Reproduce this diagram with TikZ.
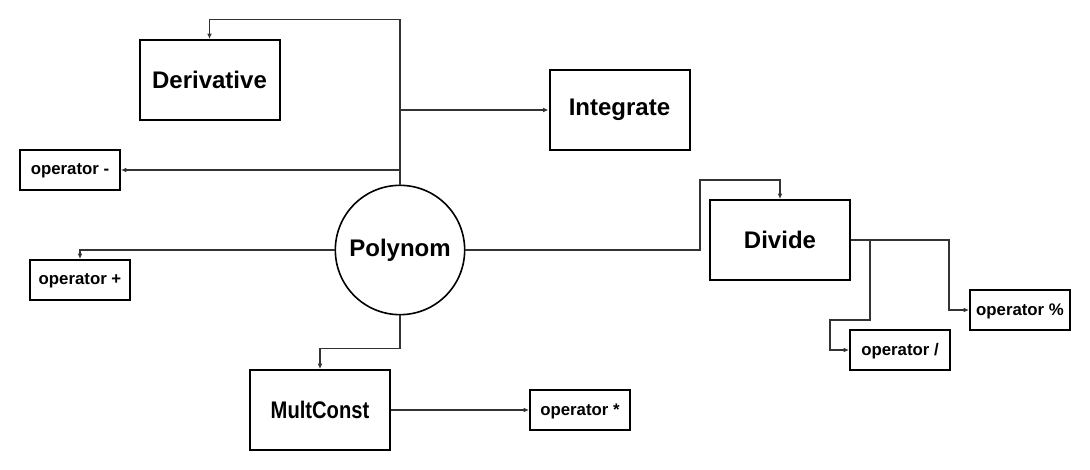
\documentclass[tikz,border=0pt]{standalone}
\usepackage{fontspec}
\setmainfont{Liberation Sans}
\usetikzlibrary{arrows.meta}

\begin{document}
\begin{tikzpicture}[x=0.75pt, y=-0.75pt,
		>={Latex[length=4pt,width=3.5pt]},
		big/.style={draw, line width=1.5pt, minimum width=105pt, minimum height=60pt, font=\bfseries\fontsize{18}{21}\selectfont},
		small/.style={draw, line width=1.5pt, minimum width=75pt, minimum height=30pt, text depth=1pt, font=\bfseries\fontsize{12.6}{15}\selectfont},
		link/.style={draw=black!80, line width=1pt}]
		\useasboundingbox (0, 0) rectangle (1090, 470);
		
		\node[draw, circle, line width=1.2pt, minimum size=97pt, font=\bfseries\fontsize{18}{21}\selectfont] (poly) at (400, 250) {Polynom};
		
		\node[big] (deriv) at (209.5, 80) {Derivative};
		\node[big] (integ) at (619.5, 110) {Integrate};
		\node[big] (divide) at (780, 240) {Divide};
		\node[big] (mult) at (320, 410) {\scalebox{0.84}[1]{MultConst}};
		
		\node[small] (minus) at (70, 170) {operator -};
		\node[small] (plus) at (80, 280) {operator +};
		\node[small] (mod) at (1020, 310) {operator \%};
		\node[small] (div) at (900, 350) {operator /};
		\node[small] (times) at (580, 410) {operator *};
		
		\coordinate (j) at (870, 240);
		
		\draw[link, ->] (poly.north) -- ++(0, -165) -| (deriv.north);
		\draw[link, ->] (poly.north |- integ.west) -- (integ.west);
		\draw[link, ->] (poly.north |- minus.east) -- (minus.east);
		\draw[link, ->] (poly.west) -| (plus.north);
		\draw[link, ->] (poly.east) -| (700, 180) -| (divide.north);
		\draw[link, ->] (poly.south) -- ++(0, 33) -| (mult.north);
		\draw[link, ->] (mult.east) -- (times.west);
		
		\draw[link, ->] (divide.east) -- ++(98, 0) |- (mod.west);
		\draw[link, ->] (j) |- (830, 320) |- (div.west);
	\end{tikzpicture}
\end{document}
